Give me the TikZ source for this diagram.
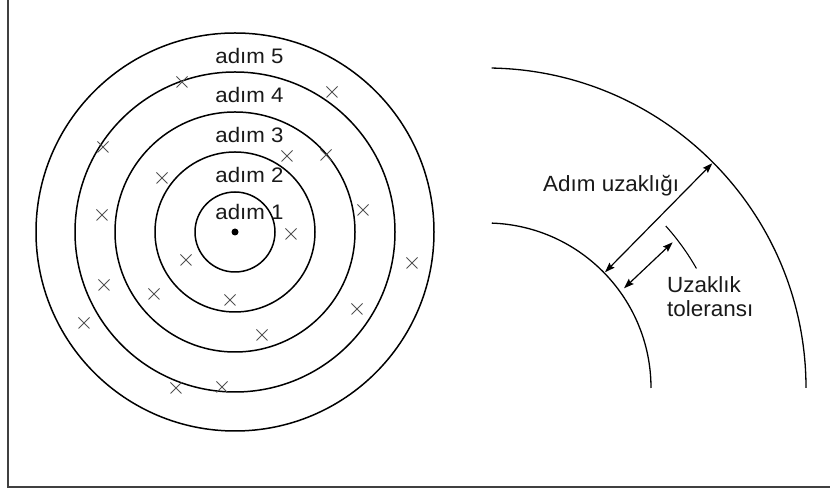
\documentclass[tikz,border=0pt]{standalone}
\usepackage{fontspec}
\setmainfont{Liberation Sans}
\usetikzlibrary{arrows.meta,calc}
\begin{document}
\begin{tikzpicture}[x=1pt,y=1pt,
  ring/.style={line width=1.5pt, black},
  crossline/.style={line width=1pt, black!68},
  steplabel/.style={font=\fontsize{21}{25}\selectfont, xscale=1.06, anchor=base, inner sep=0pt, text=black!90},
  sidelabel/.style={font=\fontsize{22}{26}\selectfont, xscale=1.02, anchor=base west, inner sep=0pt, text=black!90},
  bandarc/.style={line width=1.3pt, black},
  dimarrow/.style={line width=1.2pt, {Stealth[length=10pt,width=7pt,inset=1.5pt]}-{Stealth[length=10pt,width=7pt,inset=1.5pt]}},
  framerule/.style={line width=2pt, black!75},
  xmark/.pic={\draw[crossline] (-5.5,-5.5)--(5.5,5.5) (-5.5,5.5)--(5.5,-5.5);}
]
\useasboundingbox (0,0) rectangle (830,489);
% frame (left and bottom edges)
\coordinate (ftop) at (8,489);
\coordinate (fcorner) at (8,2);
\coordinate (fright) at (830,2);
\draw[framerule] (ftop) -- (fcorner) -- (fright);

% concentric steps
\coordinate (C) at (235,257);
\foreach \r in {40,80,120,160,199}{
  \draw[ring] (C) circle[radius=\r];
}
\fill (C) circle[radius=3.5];
\node[steplabel] (s5) at (249.5,425.5) {adım 5};
\node[steplabel] (s4) at (249.5,386) {adım 4};
\node[steplabel] (s3) at (249.5,346) {adım 3};
\node[steplabel] (s2) at (249.5,306) {adım 2};
\node[steplabel] (s1) at (249.5,269) {adım 1};

% crosses
\foreach \p in {(182,407),(332,397),(103,342),(287,333),(326,334),(162,311),
  (102,274),(363,279),(291,255),(186,229),(412,226),(104,204),(154,195),
  (230,189),(357,180),(84,166),(262,154),(176,101),(222,102)}{
  \pic at \p {xmark};
}

% right: step distance detail
\coordinate (O) at (486,101);
\draw[bandarc] ($(O)+(88:165)$) arc[start angle=88, end angle=0, radius=165];
\draw[bandarc] ($(O)+(89:320)$) arc[start angle=89, end angle=0, radius=320];
\draw[line width=1.1pt] ($(O)+(42:242)$) arc[start angle=42, end angle=29.6, radius=242];

\coordinate (inA) at ($(O)+(44.2:166)$);
\coordinate (outA) at ($(O)+(44.8:319)$);
\draw[dimarrow] (inA) -- (outA);
\coordinate (inB) at (624,200.7);
\coordinate (tolB) at (672.7,246.7);
\draw[dimarrow] (inB) -- (tolB);

\node[sidelabel] (dist) at (543,297) {Adım uzaklığı};
\node[sidelabel] (tol1) at (667,196) {Uzaklık};
\node[sidelabel] (tol2) at (667,172) {toleransı};
\end{tikzpicture}
\end{document}
